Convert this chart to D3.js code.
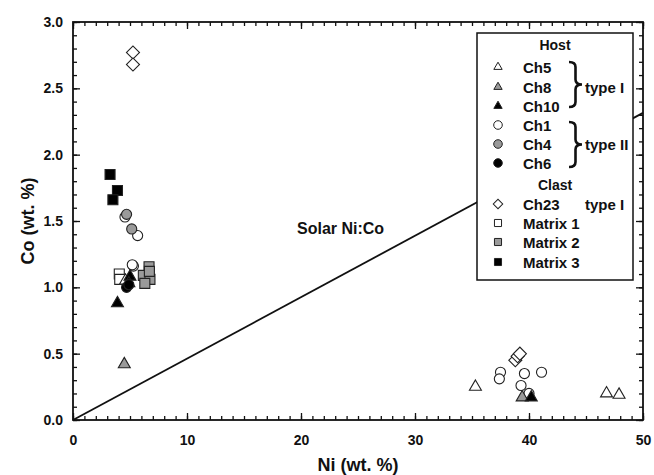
<!DOCTYPE html>
<html>
<head>
<meta charset="utf-8">
<script src="https://cdn.jsdelivr.net/npm/d3@7"></script>
<style>
  body { margin: 0; background: #fff; }
  text { font-family: "Liberation Sans", Arial, sans-serif; font-weight: bold; fill: #111; }
</style>
</head>
<body>
<svg id="chart" width="654" height="475"></svg>
<script>
// data: [Ni wt.%, Co wt.%]
const ch5 = [[35.3, 0.25], [46.8, 0.20], [47.9, 0.19], [4.6, 1.05]];
const ch8 = [[4.5, 0.42], [39.4, 0.17]];
const ch10 = [[3.9, 0.88], [5.0, 1.08], [4.9, 1.03], [40.2, 0.17]];
const ch1 = [[4.56, 1.53], [5.67, 1.39], [5.3, 1.16], [5.2, 1.17],
             [37.5, 0.36], [37.4, 0.31], [39.6, 0.35], [41.1, 0.36], [39.3, 0.26], [40.0, 0.20]];
const ch4 = [[4.7, 1.55], [5.15, 1.44]];
const ch6 = [[4.7, 1.00], [4.9, 1.02]];
const ch23 = [[5.26, 2.77], [5.26, 2.68], [38.8, 0.45], [39.0, 0.48], [39.2, 0.50]];
const matrix1 = [[4.06, 1.10], [4.1, 1.06]];
const matrix2 = [[6.67, 1.155], [6.17, 1.09], [6.75, 1.06], [6.3, 1.03], [6.7, 1.12]];
const matrix3 = [[3.25, 1.85], [3.9, 1.73], [3.5, 1.66]];

const solarRatio = 21.6; // Ni:Co
const xTicks = [0, 10, 20, 30, 40, 50];
const yTicks = [0, 0.5, 1.0, 1.5, 2.0, 2.5, 3.0];

const svg = d3.select('#chart');
const x = d3.scaleLinear().domain([0, 50]).range([73, 643]);
const y = d3.scaleLinear().domain([0, 3]).range([420, 22]);

const GRAY = '#9a9a9a';

// solar line
svg.append('line')
    .attr('x1', x(0)).attr('y1', y(0))
    .attr('x2', x(50)).attr('y2', y(50 / solarRatio))
    .attr('stroke', '#111').attr('stroke-width', 1.8);

svg.append('text')
    .attr('x', 297).attr('y', 234)
    .style('font-size', '16px')
    .text('Solar Ni:Co');

// marker definitions
const kinds = {
    triangle: { type: d3.symbolTriangle, size: 62, legend: 30, rot: 0 },
    circle: { type: d3.symbolCircle, size: 80, legend: 58, rot: 0 },
    square: { type: d3.symbolSquare, size: 100, legend: 50, rot: 0 },
    diamond: { type: d3.symbolSquare, size: 85, legend: 45, rot: 45 }
};

const series = [
    { name: 'Ch1', data: ch1, kind: 'circle', fill: '#fff' },
    { name: 'Ch4', data: ch4, kind: 'circle', fill: GRAY },
    { name: 'Matrix 1', data: matrix1, kind: 'square', fill: '#fff' },
    { name: 'Matrix 2', data: matrix2, kind: 'square', fill: GRAY },
    { name: 'Ch5', data: ch5, kind: 'triangle', fill: '#fff' },
    { name: 'Ch8', data: ch8, kind: 'triangle', fill: GRAY },
    { name: 'Ch10', data: ch10, kind: 'triangle', fill: '#000' },
    { name: 'Ch6', data: ch6, kind: 'circle', fill: '#000' },
    { name: 'Matrix 3', data: matrix3, kind: 'square', fill: '#000' },
    { name: 'Ch23', data: ch23, kind: 'diamond', fill: '#fff' }
];

series.forEach(s => {
    const k = kinds[s.kind];
    svg.append('g').selectAll('path')
        .data(s.data)
        .join('path')
        .attr('d', d3.symbol().type(k.type).size(k.size))
        .attr('transform', d => `translate(${x(d[0])},${y(d[1])}) rotate(${k.rot})`)
        .attr('fill', s.fill)
        .attr('stroke', '#222')
        .attr('stroke-width', 1.1);
});

// axes, ticks inward on all four sides
function addAxis(axisFn, scale, translate, major, minor, pad, fmt) {
    const g = svg.append('g').attr('transform', translate);
    g.call(axisFn(scale).tickValues(minor).tickSize(-4).tickFormat(''));
    const gm = svg.append('g').attr('transform', translate);
    gm.call(axisFn(scale).tickValues(major).tickSize(-7).tickPadding(pad)
        .tickFormat(fmt ? fmt : ''));
    [g, gm].forEach(a => {
        a.select('.domain').remove();
        a.selectAll('line').attr('stroke', '#111').attr('stroke-width', 1.3);
    });
    gm.selectAll('text').style('font-size', '14px').attr('fill', '#111');
    return gm;
}
const xMinor = d3.range(0, 51, 1);
const yMinor = d3.range(0, 31, 1).map(v => v / 10);

addAxis(d3.axisBottom, x, `translate(0,${y(0)})`, xTicks, xMinor, 15, d3.format('d'));
addAxis(d3.axisTop, x, `translate(0,${y(3)})`, xTicks, xMinor, 0, null);
addAxis(d3.axisLeft, y, `translate(${x(0)},0)`, yTicks, yMinor, 10, d3.format('.1f'));
addAxis(d3.axisRight, y, `translate(${x(50)},0)`, yTicks, yMinor, 0, null);

svg.append('rect')
    .attr('x', x(0)).attr('y', y(3))
    .attr('width', x(50) - x(0)).attr('height', y(0) - y(3))
    .attr('fill', 'none').attr('stroke', '#111').attr('stroke-width', 1.8);

// axis titles
svg.append('text')
    .attr('x', (x(0) + x(50)) / 2).attr('y', 471)
    .attr('text-anchor', 'middle')
    .style('font-size', '18px')
    .text('Ni (wt. %)');

svg.append('text')
    .attr('transform', `translate(34,${(y(0) + y(3)) / 2}) rotate(-90)`)
    .attr('text-anchor', 'middle')
    .style('font-size', '18px')
    .text('Co (wt. %)');

// legend
const lg = svg.append('g');
lg.append('rect')
    .attr('x', 477).attr('y', 33).attr('width', 156).attr('height', 247)
    .attr('fill', '#fff').attr('stroke', '#111').attr('stroke-width', 1.5);

const legendRows = [
    { label: 'Ch5', kind: 'triangle', fill: '#fff', y: 67 },
    { label: 'Ch8', kind: 'triangle', fill: GRAY, y: 87 },
    { label: 'Ch10', kind: 'triangle', fill: '#000', y: 106 },
    { label: 'Ch1', kind: 'circle', fill: '#fff', y: 125 },
    { label: 'Ch4', kind: 'circle', fill: GRAY, y: 144 },
    { label: 'Ch6', kind: 'circle', fill: '#000', y: 163 },
    { label: 'Ch23', kind: 'diamond', fill: '#fff', y: 204 },
    { label: 'Matrix 1', kind: 'square', fill: '#fff', y: 223 },
    { label: 'Matrix 2', kind: 'square', fill: GRAY, y: 242 },
    { label: 'Matrix 3', kind: 'square', fill: '#000', y: 262 }
];

legendRows.forEach(r => {
    const k = kinds[r.kind];
    lg.append('path')
        .attr('d', d3.symbol().type(k.type).size(k.legend)())
        .attr('transform', `translate(498,${r.y}) rotate(${k.rot})`)
        .attr('fill', r.fill).attr('stroke', '#222').attr('stroke-width', 1);
    lg.append('text')
        .attr('x', 523).attr('y', r.y + 5.5)
        .style('font-size', '15px')
        .text(r.label);
});

[['Host', 50], ['Clast', 190]].forEach(([t, yy]) => {
    lg.append('text')
        .attr('x', 555).attr('y', yy)
        .attr('text-anchor', 'middle')
        .style('font-size', '14px')
        .text(t);
});

function brace(x0, y1, y2, w) {
    const ym = (y1 + y2) / 2, xm = x0 + w / 2, r = 5;
    return `M${x0},${y1} Q${xm},${y1} ${xm},${y1 + r} L${xm},${ym - r} Q${xm},${ym} ${x0 + w},${ym}` +
        ` Q${xm},${ym} ${xm},${ym + r} L${xm},${y2 - r} Q${xm},${y2} ${x0},${y2}`;
}
[[62, 107, 'type I', 87], [122, 167, 'type II', 144]].forEach(([a, b, t, ty]) => {
    lg.append('path')
        .attr('d', brace(569, a, b, 13))
        .attr('fill', 'none').attr('stroke', '#111').attr('stroke-width', 2.6);
    lg.append('text')
        .attr('x', 585).attr('y', ty + 5.5)
        .style('font-size', '15px')
        .text(t);
});
lg.append('text')
    .attr('x', 585).attr('y', 209.5)
    .style('font-size', '15px')
    .text('type I');
</script>
</body>
</html>
